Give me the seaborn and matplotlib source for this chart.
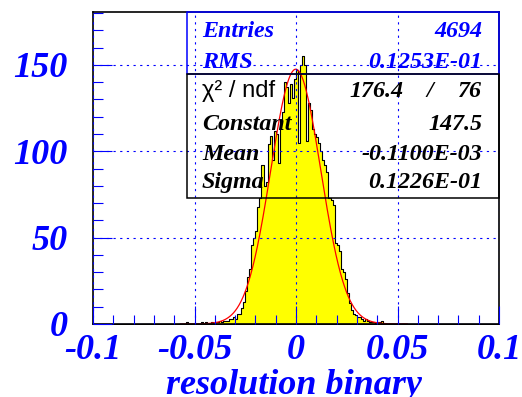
import numpy as np
import pandas as pd
import matplotlib
matplotlib.use("Agg")
import matplotlib.pyplot as plt
from matplotlib.patches import Rectangle
from matplotlib.ticker import MultipleLocator, FixedLocator
import seaborn as sns

# histogram: 200 bins of 0.001 on [-0.1, 0.1]; contents
# first listed bin has its left edge at -0.054
first_bin = -54
counts = [1, 0, 0, 0, 0, 0, 0, 1, 0, 1,          # -0.054 .. -0.045
          0, 0, 1, 0, 1, 1, 2, 1, 2, 2,          # -0.044 .. -0.035
          2, 3, 3, 4, 3, 6, 6, 9, 13, 19,        # -0.034 .. -0.025
          27, 32, 46, 50, 54, 68, 73, 92, 80, 82,   # -0.024 .. -0.015
          104, 109, 95, 112, 110, 93, 118, 123, 140, 137,  # -0.014 .. -0.005
          128, 139, 131, 142,                    # -0.004 .. -0.001
          147, 105, 150, 155, 150, 106, 128, 124, 113, 110,  # 0.000 .. 0.009
          108, 105, 100, 95, 92, 88, 73, 72, 69, 47,          # 0.010 .. 0.019
          46, 42, 32, 30, 26, 18, 12, 8, 6, 5,                # 0.020 .. 0.029
          4, 4, 3, 2, 3, 2, 1, 1, 1, 0,                       # 0.030 .. 0.039
          1, 1, 2, 0]                                         # 0.040 .. 0.043
bin_width = 0.001

# gaussian fit parameters shown in the stats box
fit_const = 147.5
fit_mean = -0.1100e-03
fit_sigma = 0.1226e-01
fit_range = (-0.057, 0.055)

xticks = [-0.1, -0.05, 0, 0.05, 0.1]
xtick_labels = ["-0.1", "-0.05", "0", "0.05", "0.1"]
yticks = [0, 50, 100, 150]
ytick_labels = ["0", "50", "100", "150"]

stats_rows = [("Entries", "4694"), ("RMS", "0.1253E-01")]
fit_rows = [("Constant", "147.5"), ("Mean", "-0.1100E-03"), ("Sigma", "0.1226E-01")]
chi2, ndf = "176.4", "76"

df = pd.DataFrame({
    "x": (np.arange(len(counts)) + first_bin + 0.5) * bin_width,
    "n": counts,
})

sns.set_style("white")
plt.rcParams["font.family"] = ["Liberation Serif", "DejaVu Serif"]

fig = plt.figure(figsize=(5.22, 3.97), dpi=100)
W, H = 522, 397
L, R, T, B = 93, 499, 12, 324
ax = fig.add_axes([L / W, 1 - B / H, (R - L) / W, (B - T) / H])

sns.histplot(data=df, x="x", weights="n", binwidth=bin_width, binrange=(-0.1, 0.1),
             element="step", fill=True, color="yellow", alpha=1,
             edgecolor="black", linewidth=0.8, ax=ax)

xf = np.linspace(fit_range[0], fit_range[1], 600)
ax.plot(xf, fit_const * np.exp(-0.5 * ((xf - fit_mean) / fit_sigma) ** 2),
        color="red", lw=0.9)

ax.set_xlim(-0.1, 0.1)
ax.set_ylim(0, 180.6)
ax.set_xlabel("")
ax.set_ylabel("")

ax.xaxis.set_major_locator(FixedLocator(xticks))
ax.xaxis.set_minor_locator(MultipleLocator(0.01))
ax.yaxis.set_major_locator(FixedLocator(yticks))
ax.yaxis.set_minor_locator(MultipleLocator(10))
ax.set_xticklabels(xtick_labels)
ax.set_yticklabels(ytick_labels)

ax.tick_params(which="both", direction="in", color="blue", labelcolor="blue", width=0.8,
               bottom=True, left=True, top=False, right=False)
ax.tick_params(axis="x", which="major", length=13, pad=7)
ax.tick_params(axis="x", which="minor", length=6.5)
ax.tick_params(axis="y", which="major", length=14, pad=18)
ax.tick_params(axis="y", which="minor", length=7)
for lab in ax.get_xticklabels() + ax.get_yticklabels():
    lab.set_fontsize(26)
    lab.set_fontweight("bold")
    lab.set_fontstyle("italic")

for sp in ax.spines.values():
    sp.set_color("black")
    sp.set_linewidth(1.2)

ax.set_axisbelow(False)
ax.grid(True, which="major", color="blue", ls=(0, (2, 4)), lw=0.8)

fig.text(293.5 / W, 1 - 394 / H, "resolution binary", ha="center", va="baseline",
         fontsize=26, fontweight="bold", fontstyle="italic", color="blue")

# stats boxes
def fx(px):
    return (px - L) / (R - L)

def fy(py):
    return (B - py) / (B - T)

box_l = fx(187)
ax.add_patch(Rectangle((box_l, fy(74)), 1 - box_l, fy(12) - fy(74), transform=ax.transAxes,
                       fill=False, edgecolor="blue", lw=1.1, zorder=3, clip_on=False))
ax.add_patch(Rectangle((box_l, fy(198)), 1 - box_l, fy(74) - fy(198), transform=ax.transAxes,
                       fill=False, edgecolor="black", lw=1.1, zorder=3, clip_on=False))

txt = dict(fontsize=17.3, fontweight="bold", fontstyle="italic", transform=ax.transAxes,
           va="baseline", zorder=4)
for (name, val), py in zip(stats_rows, [36.7, 68.3]):
    ax.text(fx(202), fy(py), name, ha="left", color="blue", **txt)
    ax.text(fx(482), fy(py), val, ha="right", color="blue", **txt)

ax.text(fx(202), fy(97.3), "χ² / ndf", ha="left", va="baseline", fontsize=17,
        family=["Liberation Sans", "DejaVu Sans"], color="black", transform=ax.transAxes)
ax.text(fx(403), fy(97.3), chi2, ha="right", color="black", **txt)
ax.text(fx(430), fy(97.3), "/", ha="center", color="black", **txt)
ax.text(fx(482), fy(97.3), ndf, ha="right", color="black", **txt)
for (name, val), py in zip(fit_rows, [130, 160, 188.3]):
    ax.text(fx(202), fy(py), name, ha="left", color="black", **txt)
    ax.text(fx(482), fy(py), val, ha="right", color="black", **txt)

fig.savefig("out.png", dpi=100, facecolor="white")
